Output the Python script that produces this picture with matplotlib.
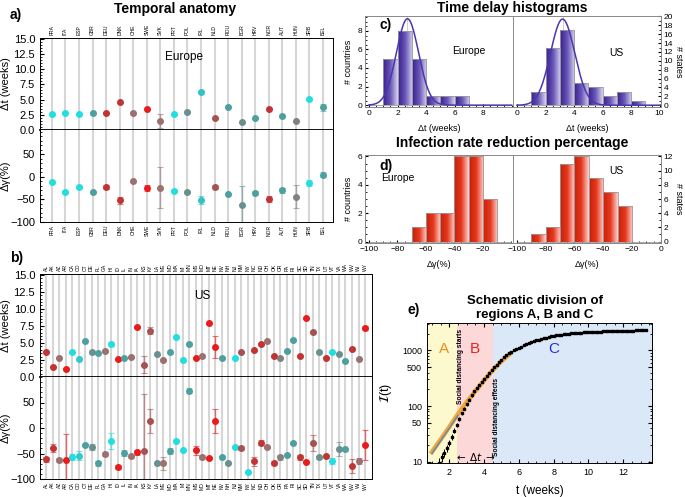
import numpy as np
import matplotlib.pyplot as plt
from matplotlib.colors import LinearSegmentedColormap, to_rgba
from matplotlib.ticker import MultipleLocator, FixedLocator, NullFormatter

plt.rcParams['font.family'] = ['Liberation Sans', 'DejaVu Sans']
plt.rcParams['axes.linewidth'] = 0.7

nan = np.nan

# ---- panel a: Europe ----
eu_lab = ['FRA', 'ITA', 'ESP', 'GBR', 'DEU', 'DNK', 'CHE', 'SWE', 'SVK', 'PRT', 'POL',
          'IRL', 'NLD', 'ROU', 'BGR', 'HRV', 'NOR', 'AUT', 'HUN', 'SRB', 'BEL']
eu_dt = [2.6, 2.85, 2.7, 2.75, 2.8, 4.55, 2.75, 3.5, 1.45, 2.6, 3.0,
         6.25, 1.9, 3.85, 1.25, 1.9, 3.5, 2.3, 1.45, 5.1, 3.7]
eu_dt_err = [0.1, 0.1, 0.1, 0.1, 0.1, 0.1, 0.1, 0.1, 1.2, 0.1, 0.1,
             0.1, 0.1, 0.1, 0.1, 0.1, 0.1, 0.1, 0.1, 0.1, 0.55]
eu_dg = [-11, -34, -22, -34, -22, -52, -10, -25, -24, -32, -33,
         -51, -22, -39, -63, -36, -49, -30, -44, -14, 5]
eu_dg_err = [2, 2, 2, 2, 5, 8, 2, 6, 46, 2, 2,
             8, 4, 2, 42, 4, 7, 5, 25, 7, 5]

# ---- panel b: US ----
us_lab = ['AL', 'AK', 'AZ', 'AR', 'CA', 'CO', 'CT', 'DE', 'FL', 'GA',
          'HI', 'ID', 'IL', 'IN', 'IA', 'KS', 'KY', 'LA', 'ME', 'MD',
          'MA', 'MI', 'MN', 'MS', 'MO', 'MT', 'NE', 'NV', 'NH', 'NJ',
          'NM', 'NY', 'NC', 'ND', 'OH', 'OK', 'OR', 'PA', 'RI', 'SC',
          'SD', 'TN', 'TX', 'UT', 'VT', 'VA', 'WA', 'WV', 'WI', 'WY']
us_dt = [3.7, 1.5, 2.85, 1.2, 3.6, 2.6, 5.25, 3.6, 3.55, 3.8,
         4.9, 2.6, 2.75, 2.95, 7.35, 1.8, 6.8, 3.3, 2.5, 3.6,
         5.8, 2.5, 4.85, 2.8, 3.1, 7.85, 4.4, 2.8, nan, 2.8,
         3.6, nan, 3.9, 4.85, 5.25, 3.1, 2.75, 3.8, 5.45, 3.1,
         8.6, 6.55, 3.7, 2.85, 3.6, 3.4, 2.35, 4.1, 2.6, 7.25]
us_dt_err = [0.1, 0.1, 0.1, 0.15, 0.1, 0.1, 0.1, 0.1, 0.1, 0.1,
             0.3, 0.1, 0.1, 0.1, 0.1, 1.25, 0.5, 0.1, 0.1, 0.1,
             0.1, 0.1, 0.1, 0.1, 0.1, 0.1, 1.6, 0.1, 0.1, 0.1,
             0.1, 0.1, 0.1, 0.2, 0.1, 0.1, 0.1, 0.1, 0.1, 0.1,
             0.1, 0.15, 0.1, 0.1, 0.1, 0.1, 0.1, 0.1, 0.1, 0.3]
us_dg = [-61, -39, -62, -63, -57, -54, -33, -38, -69, -51,
         -25, -76, -49, -55, -48, -45, 14, -69, -69, -45,
         -25, -43, 73, -44, -57, -59, 14, -57, -69, -38,
         -39, -87, -65, -29, -38, -69, -57, -53, -29, -57,
         -67, -29, -57, -55, -65, -41, -42, -74, -64, -33]
us_dg_err = [5, 8, 4, 52, 6, 9, 2, 6, 5, 3,
             16, 4, 6, 4, 5, 112, 24, 3, 13, 5,
             2, 2, 5, 8, 4, 2, 24, 3, 2, 2,
             4, 2, 9, 5, 2, 4, 5, 2, 2, 5,
             2, 16, 3, 3, 6, 13, 3, 14, 6, 30]

# ---- panels c, d: histograms ----
dt_edges = [0, 1, 2, 3, 4, 5, 6, 7, 8, 9, 10]
eu_dt_counts = [0, 5, 8, 5, 1, 1, 1, 0, 0, 0]
us_dt_counts = [0, 3, 13, 17, 5, 4, 2, 3, 1, 0]
eu_fit = (9.3, 2.7, 0.78)   # amplitude, centre, width
us_fit = (19.4, 3.2, 0.85)
dg_edges = [-100, -90, -80, -70, -60, -50, -40, -30, -20, -10, 0]
eu_dg_counts = [0, 0, 0, 1, 2, 2, 6, 6, 3, 0]
us_dg_counts = [0, 1, 2, 11, 12, 9, 7, 5, 0, 0]

# ---- panel e: schematic ----
e_day = list(range(10, 94))
e_cases = [9.6, 12, 14.5, 17.5, 22, 28, 36, 46, 58, 74,
           90, 108, 130, 155, 183, 212, 243, 276, 312, 352,
           396, 443, 495, 550, 610, 680, 750, 820, 890, 950,
           1010, 1060, 1110, 1170, 1230, 1290, 1350, 1410, 1460, 1510,
           1560, 1610, 1650, 1700, 1740, 1780, 1820, 1850, 1880, 1910,
           1940, 1970, 1990, 2010, 2030, 2050, 2070, 2085, 2100, 2115,
           2130, 2140, 2150, 2160, 2170, 2180, 2190, 2200, 2205, 2210,
           2220, 2225, 2230, 2240, 2245, 2250, 2260, 2265, 2270, 2280,
           2290, 2295, 2300, 2310]
fit_t = [1.0, 1.5, 2.0, 2.5, 3.0, 3.5, 4.0, 4.5, 5.0, 5.5]
fit_y = [15, 25, 42, 72, 118, 185, 290, 440, 640, 870]
expA_t = [1.0, 2.5]
expA_y = [14, 68]

# colours (encode the category shade of each point)
C, T, TG, G, GB, B, BR, R = ('#22dede', '#4da0a0', '#6a8f8f', '#858080',
                             '#9a7070', '#a65252', '#c23434', '#e81c1c')
eu_col = [C, C, C, T, BR, BR, GB, R, GB, C, TG, '#30c4c4', B, T, TG, T, BR, T, G, C, T]
us_col = [BR, BR, GB, R, C, '#30caca', T, TG, T, GB,
          C, R, T, GB, R, B, B, TG, GB, T,
          C, C, T, R, GB, R, R, T, TG, C,
          B, C, BR, BR, GB, BR, G, T, T, BR,
          R, B, TG, BR, C, TG, T, BR, GB, R]

fig = plt.figure(figsize=(6.85, 4.97), dpi=100)


def axes_px(x0, y0, x1, y1):
    return fig.add_axes([x0 / 685, 1 - y1 / 497, (x1 - x0) / 685, (y1 - y0) / 497])


def anatomy(ax_t, ax_g, labels, dt, dt_err, dg, dg_err, cols, xlim, glim, mtxt):
    pos = np.arange(1, len(labels) + 1)
    for ax in (ax_t, ax_g):
        ax.vlines(pos, -300, 300, color='#d6d6d6', lw=1.5, zorder=0)
        ax.set_xlim(*xlim)
        ax.set_xticks(pos)
        ax.tick_params(axis='x', length=0, labelsize=3.6, pad=2)
        ax.tick_params(axis='y', which='both', direction='in', labelsize=8)
        ax.tick_params(axis='y', which='minor', length=1.5)
        ax.tick_params(axis='y', which='major', length=3)
    for i in range(len(labels)):
        ec = to_rgba(cols[i], 0.6)
        if not np.isnan(dt[i]):
            ax_t.errorbar(pos[i], dt[i], yerr=dt_err[i], fmt='o', ms=4, color=cols[i],
                          ecolor=ec, elinewidth=1, capsize=2, capthick=0.8)
        ax_g.errorbar(pos[i], dg[i], yerr=dg_err[i], fmt='o', ms=4, color=cols[i],
                      ecolor=ec, elinewidth=1, capsize=2, capthick=0.8)
    ax_t.xaxis.tick_top()
    ax_t.set_xticklabels(labels, rotation=90)
    ax_g.set_xticklabels(labels, rotation=90)
    ax_t.set_ylim(0, 15.1)
    ax_t.set_yticks([0, 2.5, 5, 7.5, 10, 12.5, 15])
    ax_t.set_yticklabels(['0.0', '2.5', '5.0', '7.5', '10.0', '12.5', '15.0'])
    ax_t.yaxis.set_minor_locator(MultipleLocator(0.5))
    ax_t.spines['bottom'].set_linewidth(1.3)
    ax_t.spines['bottom'].set_color('black')
    ax_g.spines['top'].set_visible(False)
    ax_g.set_ylim(*glim)
    ax_g.set_yticks([-100, -50, 0, 50])
    ax_g.yaxis.set_minor_locator(MultipleLocator(10))
    ax_t.set_ylabel('Δt (weeks)', fontsize=8, labelpad=2)
    ax_g.set_ylabel('Δγ(%)', fontsize=8, labelpad=0)
    ax_t.text(0.49, 0.79, mtxt, transform=ax_t.transAxes, ha='center', va='center', fontsize=8.5)


# panel a
a_t = axes_px(40, 38, 333, 130)
a_g = axes_px(40, 130, 333, 222)
anatomy(a_t, a_g, eu_lab, eu_dt, eu_dt_err, eu_dg, eu_dg_err, eu_col,
        (0.12, 21.74), (-100, 104), 'Europe')

# panel b
b_t = axes_px(40, 274, 372, 377)
b_g = axes_px(40, 377, 372, 479)
anatomy(b_t, b_g, us_lab, us_dt, us_dt_err, us_dg, us_dg_err, us_col,
        (0.08, 51.07), (-100, 100), 'US')

fig.text(175 / 685, 1 - 9 / 497, 'Temporal anatomy', ha='center', va='center',
         fontsize=10, weight='bold')
fig.text(10 / 685, 1 - 15 / 497, 'a)', ha='left', va='center', fontsize=10, weight='bold')
fig.text(10 / 685, 1 - 258 / 497, 'b)', ha='left', va='center', fontsize=10, weight='bold')

purple = LinearSegmentedColormap.from_list('pu', ['#3a1f8e', '#6a58b8', '#d6d2ef'])
reds = LinearSegmentedColormap.from_list('rd', ['#c81e08', '#e6391f', '#ffd3cf'])


def grad_hist(ax, edges, counts, cmap):
    grad = np.linspace(0, 1, 64).reshape(1, -1)
    bars = ax.bar(edges[:-1], counts, width=np.diff(edges), align='edge',
                  facecolor='none', edgecolor='#9c9c9c', lw=0.6, zorder=3)
    for b in bars:
        if b.get_height() <= 0:
            continue
        x0, w, h = b.get_x(), b.get_width(), b.get_height()
        im = ax.imshow(grad, extent=[x0, x0 + w, 0, h], aspect='auto', cmap=cmap, zorder=2)
        im.set_clip_path(b)


def hist_style(ax, side):
    ax.tick_params(which='both', direction='in', labelsize=6, pad=2)
    ax.tick_params(which='major', length=2.5)
    ax.tick_params(which='minor', length=1.2)
    if side == 'left':
        ax.tick_params(axis='y', left=True, right=False, labelleft=True, labelright=False)
    else:
        ax.yaxis.tick_right()
        ax.tick_params(axis='y', left=False, right=True)
    for s in ax.spines.values():
        s.set_color('#888888')


# panel c
cL = axes_px(365, 16, 513, 107)
cR = axes_px(513, 16, 661, 107)
xs = np.linspace(0, 10, 300)
for ax, counts, fit, ylim, side in ((cL, eu_dt_counts, eu_fit, (-0.2, 9.6), 'left'),
                                    (cR, us_dt_counts, us_fit, (-0.4, 20.1), 'right')):
    grad_hist(ax, dt_edges, counts, purple)
    amp, mu, sg = fit
    ax.axvline(mu, color='#cfcfcf', lw=0.7, zorder=1)
    ax.plot(xs, amp * np.exp(-(xs - mu) ** 2 / (2 * sg ** 2)), color='#4b36b0', lw=1.1, zorder=4)
    ax.set_xlim(-0.28, 10.1)
    ax.set_ylim(*ylim)
    ax.xaxis.set_minor_locator(MultipleLocator(0.5))
    ax.set_xlabel('Δt (weeks)', fontsize=6.5, labelpad=5)
    hist_style(ax, side)
cL.set_xticks([0, 2, 4, 6, 8])
cR.set_xticks([0, 2, 4, 6, 8, 10])
cL.set_yticks([0, 2, 4, 6, 8])
cL.yaxis.set_minor_locator(MultipleLocator(0.5))
cR.set_yticks(range(0, 21, 2))
cR.yaxis.set_minor_locator(MultipleLocator(1))
cL.set_ylabel('# countries', fontsize=6.5, labelpad=3)
cL.text(0.70, 0.62, 'Europe', transform=cL.transAxes, ha='center', va='center', fontsize=7.5)
cR.text(0.70, 0.59, 'US', transform=cR.transAxes, ha='center', va='center', fontsize=7.5)
cL.text(0.1, 0.9, 'c)', transform=cL.transAxes, ha='left', va='center', fontsize=10, weight='bold')
fig.text(678 / 685, 1 - 62 / 497, '# states', rotation=-90, ha='center', va='center', fontsize=6.5)

# panel d
dL = axes_px(365, 155, 513, 243)
dR = axes_px(513, 155, 661, 243)
for ax, counts, ylim, xlim, side in ((dL, eu_dg_counts, (-0.1, 6.1), (-102.8, 1.3), 'left'),
                                     (dR, us_dg_counts, (-0.2, 12.2), (-102.6, 0.2), 'right')):
    grad_hist(ax, dg_edges, counts, reds)
    ax.set_xlim(*xlim)
    ax.set_ylim(*ylim)
    ax.xaxis.set_minor_locator(MultipleLocator(5))
    ax.set_xlabel('Δγ(%)', fontsize=6.5, labelpad=5)
    hist_style(ax, side)
dL.set_xticks([-100, -80, -60, -40, -20])
dR.set_xticks([-100, -80, -60, -40, -20, 0])
dL.set_yticks([0, 2, 4, 6])
dL.yaxis.set_minor_locator(MultipleLocator(0.5))
dR.set_yticks(range(0, 13, 2))
dR.yaxis.set_minor_locator(MultipleLocator(1))
dL.set_ylabel('# countries', fontsize=6.5, labelpad=3)
dL.text(0.22, 0.74, 'Europe', transform=dL.transAxes, ha='center', va='center', fontsize=7.5)
dR.text(0.70, 0.82, 'US', transform=dR.transAxes, ha='center', va='center', fontsize=7.5)
dL.text(0.1, 0.88, 'd)', transform=dL.transAxes, ha='left', va='center', fontsize=10, weight='bold')
fig.text(678 / 685, 1 - 199 / 497, '# states', rotation=-90, ha='center', va='center', fontsize=6.5)

fig.text(512 / 685, 1 - 8 / 497, 'Time delay histograms', ha='center', va='center',
         fontsize=10, weight='bold')
fig.text(512 / 685, 1 - 143 / 497, 'Infection rate reduction percentage', ha='center',
         va='center', fontsize=10, weight='bold')

# panel e
e = axes_px(427, 323, 652, 463)
e.set_yscale('log')
e.set_xlim(0.72, 13.65)
e.set_ylim(9.5, 3100)
e.axvspan(0.72, 2.46, color='#fcf9cf', lw=0, zorder=0)
e.axvspan(2.46, 4.5, color='#fcd8d8', lw=0, zorder=0)
e.axvspan(4.5, 13.65, color='#dbe8f8', lw=0, zorder=0)
e.plot(fit_t, fit_y, color='#f0a636', lw=3.2, zorder=2)
e.plot(expA_t, expA_y, color='#5a86c8', lw=1.0, zorder=3)
e_t = np.array(e_day) / 7
e_c = np.array(e_cases)
e.errorbar(e_t, e_c, yerr=0.6 * np.sqrt(e_c), fmt='s', ms=1.8, color='black',
           elinewidth=0.7, capsize=0, zorder=4)
e.text(1.7, 1050, 'A', color='#f08c1a', fontsize=11, ha='center', va='center')
e.text(3.48, 1050, 'B', color='#ee2020', fontsize=11, ha='center', va='center')
e.text(8.0, 1050, 'C', color='#2030e0', fontsize=11, ha='center', va='center')
e.text(2.47, 520, 'Social distancing starts', rotation=90, ha='left', va='center',
       fontsize=4.8, weight='bold')
e.text(4.51, 65, 'Social distancing effects', rotation=90, ha='left', va='center',
       fontsize=4.8, weight='bold')
e.text(3.5, 12.3, r'$\leftarrow$ $\Delta t$ $\rightarrow$', ha='center', va='center', fontsize=7.5)
e.set_xticks([2, 4, 6, 8, 10, 12])
e.xaxis.set_minor_locator(MultipleLocator(0.5))
e.yaxis.set_major_locator(FixedLocator([10, 50, 100, 500, 1000]))
e.set_yticklabels(['10', '50', '100', '500', '1000'])
e.yaxis.set_minor_formatter(NullFormatter())
e.tick_params(which='both', direction='in', labelsize=6.5, top=True, right=True)
e.tick_params(which='major', length=3)
e.tick_params(which='minor', length=1.5)
e.set_xlabel('t (weeks)', fontsize=8.5, labelpad=6)
e.set_ylabel(r'$\mathcal{I}$(t)', fontsize=9, labelpad=6)
fig.text(535 / 685, 1 - 308 / 497, 'Schematic division of\nregions A, B and C', ha='center',
         va='center', fontsize=9.5, weight='bold', linespacing=1.2)
fig.text(414 / 685, 1 - 310 / 497, 'e)', ha='center', va='center', fontsize=10, weight='bold')

fig.savefig('out.png', dpi=100)
